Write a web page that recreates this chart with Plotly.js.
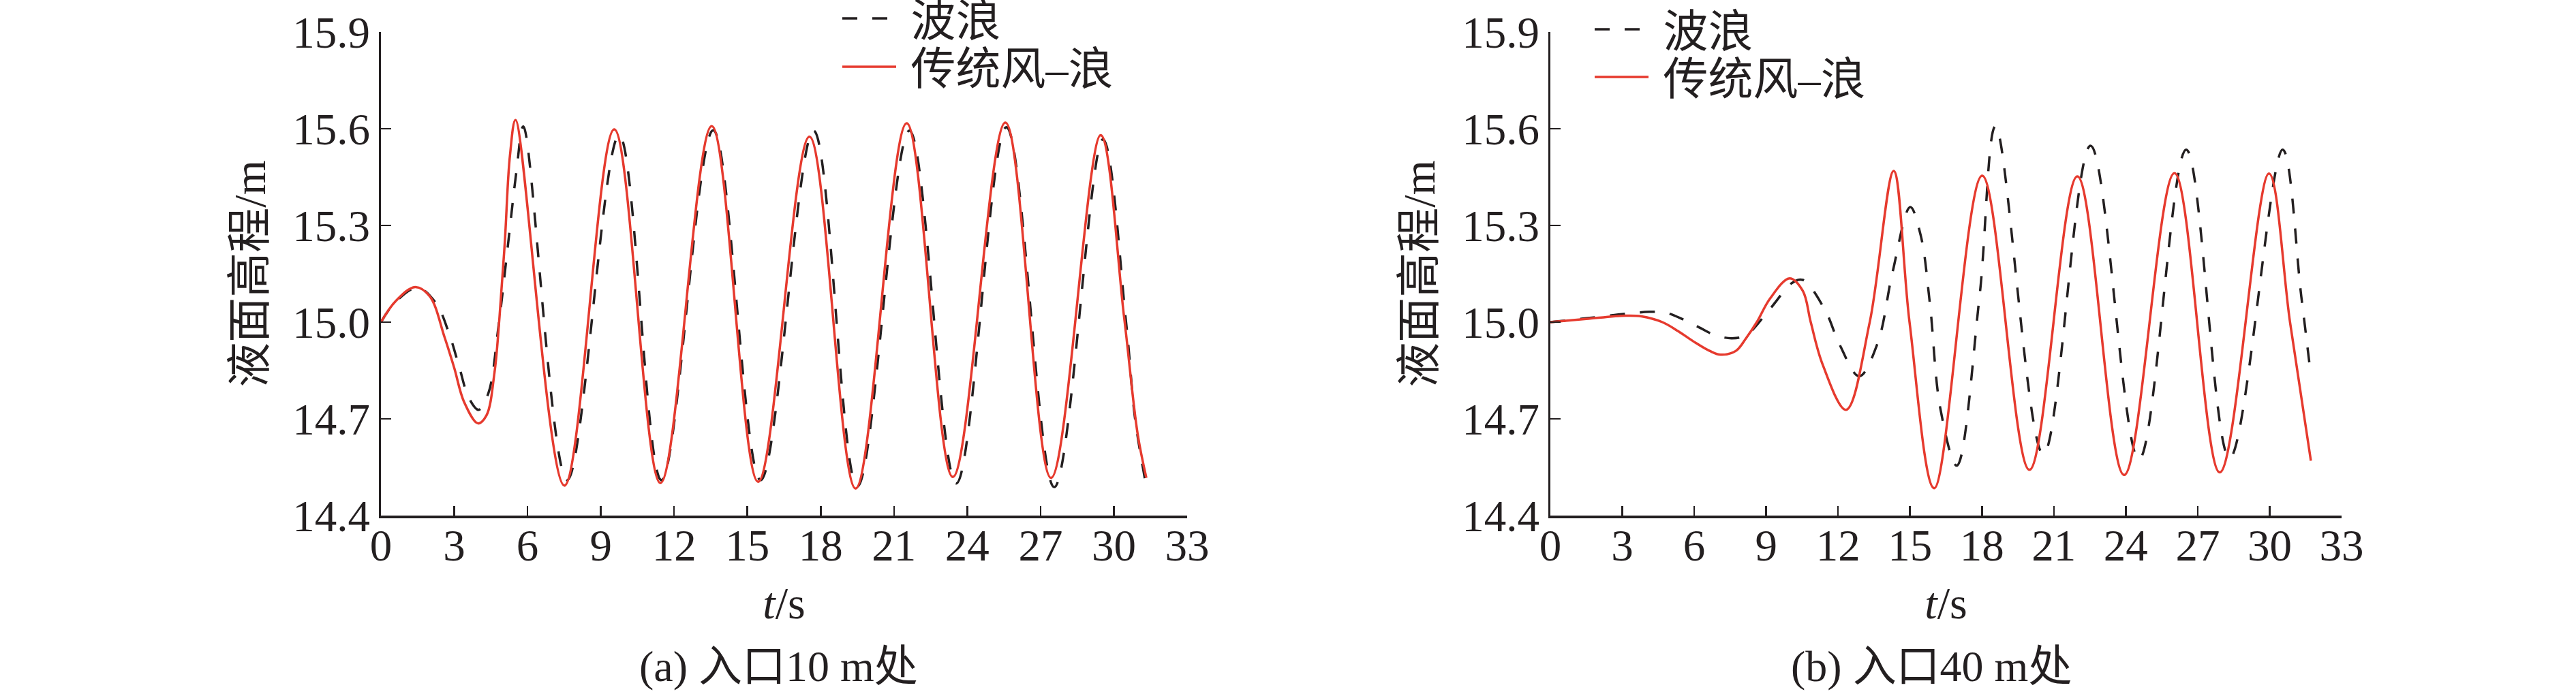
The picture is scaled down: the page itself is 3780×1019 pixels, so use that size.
<!DOCTYPE html>
<html>
<head>
<meta charset="utf-8">
<script src="https://cdn.plot.ly/plotly-3.0.1.min.js"></script>
<style>
  html, body { margin: 0; padding: 0; background: #fff; overflow: hidden; }
  /* the chart is lifted a little so the two-line legends can sit right at the top edge */
  #chart { position: absolute; left: 0; top: -30px; width: 3780px; height: 1049px; }
</style>
</head>
<body>
<div id="chart"></div>
<script>
/* 液面高程时程：(a) 入口10 m处，(b) 入口40 m处 */

// (a) 入口10 m处 —— 波浪
const tA_wave = [0, 0.6, 1.5, 2.25, 2.8, 3.2, 3.6, 4.0, 4.4, 4.8, 5.2, 5.55, 5.83, 7.62, 9.75, 11.48, 13.6, 15.54, 17.71, 19.5, 21.63, 23.55, 25.6, 27.56, 29.55, 30.5, 30.87, 31.33];
const hA_wave = [15.0, 15.063, 15.107, 15.059, 14.962, 14.862, 14.765, 14.728, 14.78, 14.98, 15.24, 15.47, 15.607, 14.51, 15.58, 14.51, 15.595, 14.51, 15.594, 14.49, 15.594, 14.50, 15.605, 14.488, 15.567, 15.0, 14.70, 14.49];

// (a) 入口10 m处 —— 传统风-浪
const tA_wind = [0, 0.6, 1.4, 2.0, 2.6, 3.0, 3.4, 3.97, 4.32, 4.65, 4.85, 5.07, 5.28, 5.51, 7.51, 9.55, 11.44, 13.54, 15.44, 17.54, 19.43, 21.52, 23.41, 25.56, 27.43, 29.46, 30.42, 30.97, 31.33];
const hA_wind = [15.0, 15.065, 15.109, 15.08, 14.954, 14.858, 14.753, 14.686, 14.711, 14.845, 15.013, 15.248, 15.516, 15.627, 14.493, 15.598, 14.501, 15.608, 14.505, 15.575, 14.484, 15.617, 14.52, 15.619, 14.517, 15.58, 15.015, 14.655, 14.517];

// (b) 入口40 m处 —— 波浪
const tB_wave = [0, 1.5, 3.14, 4.13, 4.78, 5.55, 6.2, 6.86, 7.57, 8.17, 9.16, 10.09, 10.53, 11.46, 12.06, 12.88, 13.65, 14.27, 15.01, 15.45, 15.83, 16.27, 16.95, 17.9, 18.57, 20.56, 22.53, 24.55, 26.52, 28.33, 30.54, 31.32, 31.72];
const hB_wave = [15.0, 15.012, 15.026, 15.032, 15.03, 15.008, 14.984, 14.96, 14.95, 14.96, 15.041, 15.122, 15.131, 15.037, 14.931, 14.832, 14.935, 15.154, 15.357, 15.268, 15.057, 14.73, 14.555, 15.08, 15.608, 14.59, 15.547, 14.574, 15.535, 14.578, 15.535, 15.08, 14.834];

// (b) 入口40 m处 —— 传统风-浪
const tB_wind = [0, 1.5, 3.14, 3.8, 4.67, 5.33, 5.99, 6.64, 7.1, 7.74, 8.17, 8.61, 9.16, 9.98, 10.53, 10.86, 11.35, 12.33, 13.32, 14.32, 14.98, 16.01, 18.01, 19.98, 21.98, 23.93, 26.03, 27.92, 29.97, 30.85, 31.72];
const hB_wind = [15.0, 15.01, 15.02, 15.018, 15.0, 14.972, 14.939, 14.911, 14.899, 14.911, 14.951, 15.0, 15.073, 15.136, 15.097, 15.0, 14.87, 14.728, 15.0, 15.469, 15.0, 14.485, 15.454, 14.542, 15.452, 14.526, 15.462, 14.534, 15.461, 15.0, 14.57];

const seriesNames = [' 波浪', ' 传统风–浪'];
const xTicks = [0, 3, 6, 9, 12, 15, 18, 21, 24, 27, 30, 33];
const yTicks = [14.4, 14.7, 15.0, 15.3, 15.6, 15.9];
const captions = ['(a) 入口10 m处', '(b) 入口40 m处'];

const W = 3780, OFF = 30, HH = 1049;
const FONT = '"Liberation Serif", "Times New Roman", "Noto Sans CJK SC", serif';
const INK = '#231f20';
const RED = '#e63a2e';

// page pixel -> paper fraction
const px = v => v / W;
const py = v => 1 - (v + OFF) / HH;

function xAxis(x0, x1, anchor) {
  return {
    domain: [px(x0), px(x1)], anchor: anchor, range: [0, 33],
    tickmode: 'array', tickvals: xTicks, ticks: 'inside', ticklen: 14, tickwidth: 2.5, tickcolor: INK,
    showline: true, linewidth: 4, linecolor: INK, showgrid: false, zeroline: false, mirror: false,
    tickfont: { family: FONT, size: 65, color: INK }, ticklabelstandoff: -16,
    title: { text: '<i>t</i>/s', font: { family: FONT, size: 66, color: INK }, standoff: 27 },
    automargin: false, fixedrange: true
  };
}

function yAxis(anchor) {
  return {
    domain: [py(757), py(47)], anchor: anchor, range: [14.4, 15.9],
    tickmode: 'array', tickvals: yTicks, tickformat: '.1f', ticks: 'inside', ticklen: 15, tickwidth: 2.5, tickcolor: INK,
    showline: true, linewidth: 3, linecolor: INK, showgrid: false, zeroline: false, mirror: false,
    tickfont: { family: FONT, size: 65, color: INK }, ticklabelstandoff: 0,
    title: { text: '液面高程/m', font: { family: FONT, size: 66, color: INK }, standoff: 19 },
    automargin: false, fixedrange: true
  };
}

function legendAt(x, y) {
  return {
    x: px(x), y: py(y), xanchor: 'left', yanchor: 'middle',
    bgcolor: 'rgba(0,0,0,0)', borderwidth: 0, itemwidth: 79,
    font: { family: FONT, size: 66, color: INK }
  };
}

const waveLine = { color: INK, width: 3.5, dash: '22px,22px', shape: 'spline', smoothing: 1 };
const windLine = { color: RED, width: 3.5, shape: 'spline', smoothing: 1 };

const traces = [
  { x: tA_wave, y: hA_wave, xaxis: 'x', yaxis: 'y', name: seriesNames[0], legend: 'legend', mode: 'lines', line: waveLine },
  { x: tA_wind, y: hA_wind, xaxis: 'x', yaxis: 'y', name: seriesNames[1], legend: 'legend2', mode: 'lines', line: windLine },
  { x: tB_wave, y: hB_wave, xaxis: 'x2', yaxis: 'y2', name: seriesNames[0], legend: 'legend3', mode: 'lines', line: waveLine },
  { x: tB_wind, y: hB_wind, xaxis: 'x2', yaxis: 'y2', name: seriesNames[1], legend: 'legend4', mode: 'lines', line: windLine }
];

const layout = {
  width: W, height: HH,
  margin: { l: 0, r: 0, t: 0, b: 0, pad: 0 },
  paper_bgcolor: '#fff', plot_bgcolor: '#fff',
  showlegend: true,
  xaxis: xAxis(559, 1742, 'y'),
  yaxis: yAxis('x'),
  xaxis2: xAxis(2275, 3436, 'y2'),
  yaxis2: yAxis('x2'),
  legend: legendAt(1231, 27),
  legend2: legendAt(1231, 98),
  legend3: legendAt(2335, 43),
  legend4: legendAt(2335, 113),
  annotations: [
    { text: captions[0], xref: 'paper', yref: 'paper', x: px(1142), y: py(978), xanchor: 'center', yanchor: 'middle', showarrow: false, font: { family: FONT, size: 64, color: INK } },
    { text: captions[1], xref: 'paper', yref: 'paper', x: px(2834), y: py(978), xanchor: 'center', yanchor: 'middle', showarrow: false, font: { family: FONT, size: 64, color: INK } }
  ]
};

Plotly.newPlot('chart', traces, layout, { staticPlot: true, displayModeBar: false });
</script>
</body>
</html>
